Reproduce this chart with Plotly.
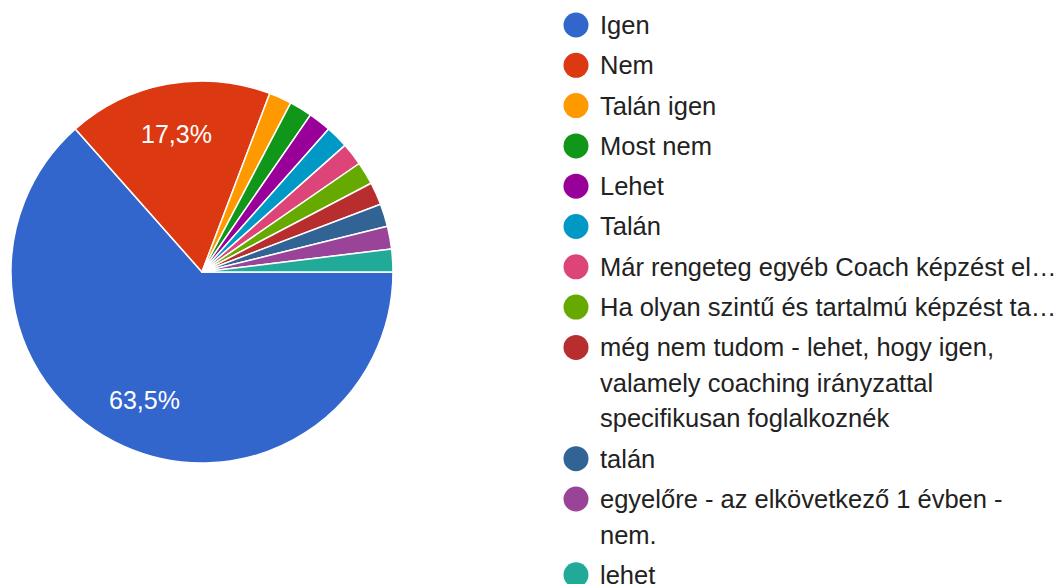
import math
import plotly.graph_objects as go

W, H = 1061, 584

legend_lines = [
    ["Igen"],
    ["Nem"],
    ["Talán igen"],
    ["Most nem"],
    ["Lehet"],
    ["Talán"],
    ["Már rengeteg egyéb Coach képzést el…"],
    ["Ha olyan szintű és tartalmú képzést ta…"],
    ["még nem tudom - lehet, hogy igen,", "valamely coaching irányzattal", "specifikusan foglalkoznék"],
    ["talán"],
    ["egyelőre - az elkövetkező 1 évben -", "nem."],
    ["lehet"],
]
labels = [" ".join(l) for l in legend_lines]
values = [33, 9, 1, 1, 1, 1, 1, 1, 1, 1, 1, 1]
colors = ["#3366cc", "#dc3912", "#ff9900", "#109618", "#990099", "#0099c6",
          "#dd4477", "#66aa00", "#b82e2e", "#316395", "#994499", "#22aa99"]
show_pct = [True, True] + [False] * 10

FONT = "Liberation Sans, Arial, sans-serif"

# pie geometry (pixels)
cx, cy, r = 202, 272, 191
start_deg = 90  # compass angle (clockwise from 12 o'clock) of first slice start

fig = go.Figure()
fig.add_trace(go.Pie(
    labels=labels,
    values=values,
    marker=dict(colors=colors, line=dict(color="white", width=1.5)),
    sort=False,
    direction="clockwise",
    rotation=start_deg,
    textinfo="none",
    showlegend=False,
    hoverinfo="label+percent",
    domain=dict(x=[(cx - r) / W, (cx + r) / W], y=[(H - cy - r) / H, (H - cy + r) / H]),
))

annotations = []
shapes = []

# percentage labels placed at each slice's mid-angle
total = sum(values)
acc = 0.0
for v, s in zip(values, show_pct):
    mid = start_deg + (acc + v / 2) / total * 360
    acc += v
    if not s:
        continue
    a = math.radians(mid)
    px = cx + 0.735 * r * math.sin(a)
    py = cy - 0.735 * r * math.cos(a)
    pct = f"{v / total * 100:.1f}%".replace(".", ",")
    annotations.append(dict(text=pct, xref="paper", yref="paper",
                            x=px / W, y=(H - py) / H, xanchor="center", yanchor="middle",
                            showarrow=False,
                            font=dict(family=FONT, size=25, color="white")))

# custom legend
y = 25.0
font_size = 25.5
for lines, col in zip(legend_lines, colors):
    shapes.append(dict(type="circle", xref="paper", yref="paper",
                       x0=(576 - 12.5) / W, x1=(576 + 12.5) / W,
                       y0=(H - y - 12.5) / H, y1=(H - y + 12.5) / H,
                       fillcolor=col, line=dict(width=0)))
    for i, ln in enumerate(lines):
        yy = y + i * 35.5
        annotations.append(dict(text=ln, xref="paper", yref="paper",
                                x=598 / W, y=(H - yy) / H, xanchor="left", yanchor="middle",
                                showarrow=False,
                                font=dict(family=FONT, size=font_size, color="#222222")))
    y += (len(lines) - 1) * 35.5 + 40.3

fig.update_layout(
    width=W, height=H,
    margin=dict(l=0, r=0, t=0, b=0),
    paper_bgcolor="white",
    plot_bgcolor="white",
    separators=", ",
    annotations=annotations,
    shapes=shapes,
)

fig.write_html("out.html")
